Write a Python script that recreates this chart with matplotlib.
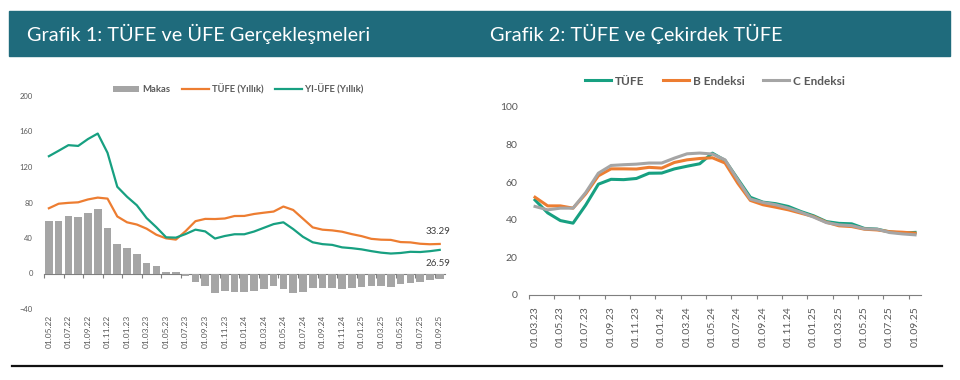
import numpy as np
import matplotlib.pyplot as plt
from matplotlib.patches import Rectangle
from matplotlib.lines import Line2D

plt.rcParams['font.family'] = ['Lato', 'DejaVu Sans']

# ---- Grafik 1 verileri (01.05.22 - 01.09.25, aylik)
tufe_yillik = [73.50, 78.62, 79.60, 80.21, 83.45, 85.51, 84.39, 64.27, 57.68, 55.18,
               50.51, 43.68, 39.59, 38.21, 47.83, 58.94, 61.53, 61.36, 61.98, 64.77,
               64.86, 67.07, 68.50, 69.80, 75.45, 71.60, 61.78, 51.97, 49.38, 48.58,
               47.09, 44.38, 42.12, 39.05, 38.10, 37.86, 35.41, 35.05, 33.52, 32.95, 33.29]
yiufe_yillik = [132.16, 138.31, 144.61, 143.75, 151.50, 157.69, 136.02, 97.72, 86.46, 76.89,
                62.45, 52.11, 40.76, 40.42, 44.50, 49.41, 47.44, 39.39, 42.25, 44.22,
                44.20, 47.29, 51.47, 55.66, 57.68, 50.09, 41.37, 35.17, 33.09, 32.24,
                29.47, 28.52, 27.20, 25.21, 23.50, 22.50, 23.13, 24.45, 24.19, 25.16, 26.59]
makas = [58.66, 59.69, 65.01, 63.54, 68.05, 72.18, 51.63, 33.45, 28.78, 21.71,
         11.94, 8.43, 1.17, 2.21, -3.33, -9.53, -14.09, -21.97, -19.73, -20.55,
         -20.66, -19.78, -17.03, -14.14, -17.77, -21.51, -20.41, -16.80, -16.29, -16.34,
         -17.62, -15.86, -14.92, -13.84, -14.60, -15.36, -12.28, -10.60, -9.33, -7.79, -6.70]
etiket1 = ['01.05.22', '01.07.22', '01.09.22', '01.11.22', '01.01.23', '01.03.23', '01.05.23',
           '01.07.23', '01.09.23', '01.11.23', '01.01.24', '01.03.24', '01.05.24', '01.07.24',
           '01.09.24', '01.11.24', '01.01.25', '01.03.25', '01.05.25', '01.07.25', '01.09.25']

# ---- Grafik 2 verileri (01.03.23 - 01.09.25, aylik)
tufe = [50.51, 43.68, 39.59, 38.21, 47.83, 58.94, 61.53, 61.36, 61.98, 64.77,
        64.86, 67.07, 68.50, 69.80, 75.45, 71.60, 61.78, 51.97, 49.38, 48.58,
        47.09, 44.38, 42.12, 39.05, 38.10, 37.86, 35.41, 35.05, 33.52, 32.95, 33.29]
b_endeksi = [52.0, 47.4, 47.4, 46.2, 53.8, 63.4, 67.1, 67.1, 67.0, 67.9,
             67.5, 70.5, 71.9, 72.6, 73.0, 70.2, 59.5, 50.3, 48.0, 46.7,
             45.3, 43.5, 41.7, 38.7, 36.8, 36.4, 35.0, 34.6, 33.7, 33.4, 32.9]
c_endeksi = [47.1, 45.3, 46.2, 46.2, 54.5, 64.8, 68.9, 69.3, 69.6, 70.2,
             70.2, 72.8, 75.1, 75.5, 75.0, 71.9, 61.3, 51.0, 49.2, 48.0,
             46.2, 44.0, 41.4, 38.5, 37.3, 36.9, 35.2, 35.0, 33.2, 32.5, 32.0]
etiket2 = ['01.03.23', '01.05.23', '01.07.23', '01.09.23', '01.11.23', '01.01.24', '01.03.24',
           '01.05.24', '01.07.24', '01.09.24', '01.11.24', '01.01.25', '01.03.25', '01.05.25',
           '01.07.25', '01.09.25']

W, H = 960, 380
fig = plt.figure(figsize=(9.6, 3.8), dpi=100)

# baslik bandi
fig.patches.append(Rectangle((9 / W, 1 - 56 / H), 941 / W, 45 / H, transform=fig.transFigure,
                             color='#1f6b7c', zorder=0))
fig.text(27 / W, 1 - 34 / H, 'Grafik 1: TÜFE ve ÜFE Gerçekleşmeleri', color='white',
         fontsize=14.3, va='center')
fig.text(490 / W, 1 - 34 / H, 'Grafik 2: TÜFE ve Çekirdek TÜFE', color='white',
         fontsize=14.3, va='center')
fig.add_artist(Line2D([12 / W, 942 / W], [1 - 366 / H] * 2, color='#111111', lw=1.6))

yesil = '#17a081'
turuncu = '#ed7d31'
gri = '#a5a5a5'
yazi = '#595959'

# ================= Grafik 1
ax1 = fig.add_axes([44 / W, 1 - 309 / H, 400.6 / W, 213 / H])
x1 = np.arange(len(makas))
b = ax1.bar(x1, makas, width=0.78, color=gri, label='Makas')
l1, = ax1.plot(x1, tufe_yillik, color=turuncu, lw=1.6, label='TÜFE (Yıllık)')
l2, = ax1.plot(x1, yiufe_yillik, color=yesil, lw=1.6, label='YI-ÜFE (Yıllık)')
ax1.set_xlim(-0.5, 40.5)
ax1.set_ylim(-40, 200)
ax1.set_yticks(np.arange(-40, 201, 40))
ax1.set_xticks(x1[::2])
ax1.set_xticklabels(etiket1, rotation=90, fontsize=6, color=yazi)
for s in ax1.spines.values():
    s.set_visible(False)
ax1.tick_params(axis='x', length=0, pad=4)
ax1.tick_params(axis='y', length=0, pad=8, labelsize=5.5, labelcolor=yazi)

sec = ax1.secondary_xaxis(40 / 240)
sec.set_xticks(np.arange(-0.5, 41, 2))
sec.tick_params(length=3, width=0.8, color='#7f7f7f', labelbottom=False)
sec.spines['bottom'].set_color('#7f7f7f')
sec.spines['bottom'].set_linewidth(0.8)

ax1.annotate(f'{tufe_yillik[-1]:.2f}', (x1[-1], tufe_yillik[-1]), xytext=(8, 9),
             textcoords='offset points', ha='right', va='center', fontsize=7, color='#404040')
ax1.annotate(f'{yiufe_yillik[-1]:.2f}', (x1[-1], yiufe_yillik[-1]), xytext=(8, -10),
             textcoords='offset points', ha='right', va='center', fontsize=7, color='#404040')

ax1.legend([b, l1, l2], ['Makas', 'TÜFE (Yıllık)', 'YI-ÜFE (Yıllık)'],
           loc='center', bbox_to_anchor=(0.484, 1.033), ncol=3, frameon=False,
           prop={'size': 6.8, 'weight': 'bold'}, handlelength=2.8, handleheight=0.7,
           handletextpad=0.3, columnspacing=1.3, labelcolor=yazi)

# ================= Grafik 2
ax2 = fig.add_axes([528.7 / W, 1 - 295 / H, 392.7 / W, 188 / H])
x2 = np.arange(len(tufe))
ax2.plot(x2, tufe, color=yesil, lw=2.2, label='TÜFE')
ax2.plot(x2, b_endeksi, color=turuncu, lw=2.2, label='B Endeksi')
ax2.plot(x2, c_endeksi, color=gri, lw=2.2, label='C Endeksi')
ax2.set_xlim(-0.5, 30.5)
ax2.set_ylim(0, 100)
ax2.set_yticks(np.arange(0, 101, 20))
ax2.set_xticks(x2[::2])
ax2.set_xticklabels(etiket2, rotation=90, fontsize=7.5, color=yazi)
ax2.set_xticks(np.arange(-0.5, 31, 2), minor=True)
for k in ['top', 'right', 'left']:
    ax2.spines[k].set_visible(False)
ax2.spines['bottom'].set_color('#7f7f7f')
ax2.spines['bottom'].set_linewidth(0.8)
ax2.tick_params(axis='x', which='major', length=0, pad=8)
ax2.tick_params(axis='x', which='minor', length=3, width=0.8, color='#7f7f7f')
ax2.tick_params(axis='y', length=0, pad=8, labelsize=7.5, labelcolor=yazi)

ax2.legend(loc='center', bbox_to_anchor=(0.474, 1.138), ncol=3, frameon=False,
           prop={'size': 8.5, 'weight': 'bold'}, handlelength=2.2, handletextpad=0.3,
           columnspacing=1.6, labelcolor=yazi)

fig.savefig('out.png', dpi=100)
